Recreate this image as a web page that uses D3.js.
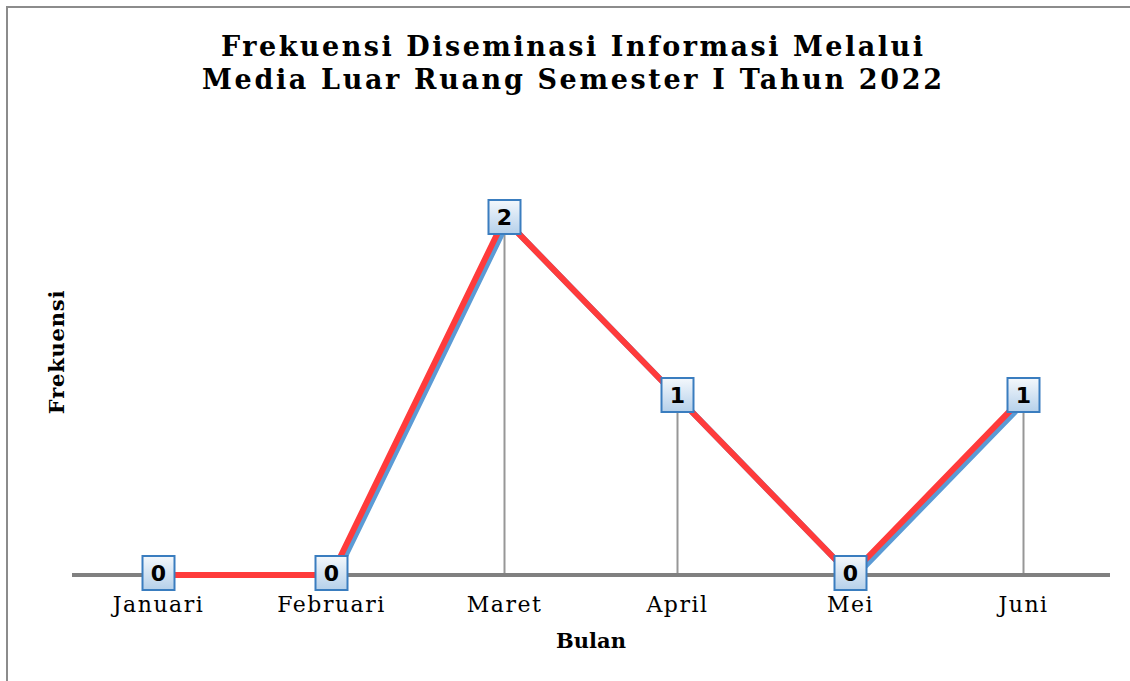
<!DOCTYPE html>
<html><head><meta charset="utf-8">
<script src="https://cdn.jsdelivr.net/npm/d3@7"></script>
<style>body{margin:0;background:#fff}svg{display:block}</style>
</head><body>
<svg id="c" width="1130" height="681"></svg>
<script>
const months = ["Januari","Februari","Maret","April","Mei","Juni"];
const values = [0,0,2,1,0,1];
const titleLines = ["Frekuensi Diseminasi Informasi Melalui","Media Luar Ruang Semester I Tahun 2022"];
const xTitle = "Bulan";
const yTitle = "Frekuensi";

const svg = d3.select("#c");
const serif = "'DejaVu Serif', 'Liberation Serif', serif";

svg.append("rect").attr("x",7).attr("y",7).attr("width",1300).attr("height",900)
  .attr("fill","#fff").attr("stroke","#8c8c8c").attr("stroke-width",2);

const x = d3.scaleBand().domain(months).range([72,1110]);
const y = d3.scaleLinear().domain([0,3]).range([575,41]);
const cx = m => x(m) + x.bandwidth()/2;

const defs = svg.append("defs");
const grad = defs.append("linearGradient").attr("id","g").attr("x1",0).attr("y1",0).attr("x2",0).attr("y2",1);
grad.append("stop").attr("offset","0%").attr("stop-color","#f4f8fc");
grad.append("stop").attr("offset","100%").attr("stop-color","#b5d0ea");
defs.append("clipPath").attr("id","above").append("rect")
  .attr("x",0).attr("y",0).attr("width",1130).attr("height",y(0)-2);

// title
const t = svg.append("text").attr("text-anchor","middle").attr("font-family",serif)
  .attr("font-weight","bold").attr("font-size",27).attr("fill","#000");
const tl = [702,740];
titleLines.forEach((s,i)=>{
  t.append("tspan").attr("x",572).attr("y",56+i*33).attr("textLength",tl[i])
   .attr("lengthAdjust","spacing").text(s);
});

const data = months.map((m,i)=>({m, v: values[i]}));

// drop lines
svg.append("g").selectAll("line").data(data.filter(d=>d.v>0)).join("line")
  .attr("x1",d=>cx(d.m)).attr("x2",d=>cx(d.m))
  .attr("y1",d=>y(d.v)).attr("y2",y(0))
  .attr("stroke","#979797").attr("stroke-width",2);

const line = d3.line().x(d=>cx(d.m)).y(d=>y(d.v));
// shadow
svg.append("path").datum(data).attr("d",line).attr("fill","none")
  .attr("stroke","#5b9bd5").attr("stroke-width",6).attr("stroke-linejoin","round")
  .attr("transform","translate(3,3)").attr("clip-path","url(#above)");

// axis
const ax = svg.append("g").attr("transform",`translate(0,${y(0)})`)
  .call(d3.axisBottom(x).tickSize(0).tickPadding(21));
ax.select(".domain").attr("stroke","#808080").attr("stroke-width",4).attr("d","M72,0H1110");
ax.selectAll("text").attr("font-family",serif).attr("font-size",22).attr("fill","#000")
  .attr("letter-spacing",1.5);

// red line
svg.append("path").datum(data).attr("d",line).attr("fill","none")
  .attr("stroke","#ff3b3b").attr("stroke-width",6).attr("stroke-linejoin","round");

// labels
const lab = svg.append("g").selectAll("g").data(data).join("g")
  .attr("transform",d=>`translate(${cx(d.m)},${y(d.v)-2})`);
lab.append("rect").attr("x",-16).attr("y",-17).attr("width",32).attr("height",34)
  .attr("fill","url(#g)").attr("stroke","#3a7dbf").attr("stroke-width",2);
lab.append("text").attr("text-anchor","middle").attr("dy","0.36em")
  .attr("font-family","'DejaVu Sans', sans-serif").attr("font-weight","bold")
  .attr("font-size",22).attr("fill","#000").text(d=>d.v);

// axis titles
svg.append("text").attr("x",591).attr("y",648).attr("text-anchor","middle")
  .attr("font-family",serif).attr("font-weight","bold").attr("font-size",21).text(xTitle);
svg.append("text").attr("transform","translate(64,352) rotate(-90)").attr("text-anchor","middle")
  .attr("font-family",serif).attr("font-weight","bold").attr("font-size",21)
  .attr("letter-spacing",0.8).text(yTitle);
</script>
</body></html>
